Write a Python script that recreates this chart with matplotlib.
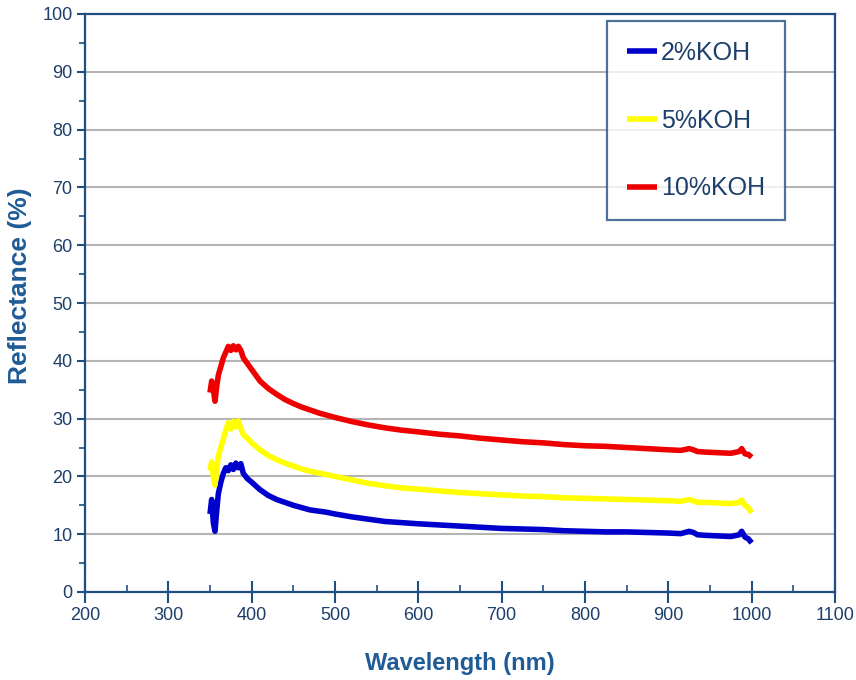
import matplotlib.pyplot as plt
from matplotlib.ticker import MultipleLocator

plt.rcParams['font.family'] = ['Liberation Sans', 'DejaVu Sans']

# wavelength (nm) and reflectance (%)
wavelength = [350, 352, 354, 356, 358, 360, 363, 366, 369, 372, 375, 378, 381, 384, 387,
              390, 395, 400, 410, 420, 430, 440, 450, 460, 470, 480, 490, 500, 520, 540,
              560, 580, 600, 625, 650, 675, 700, 725, 750, 775, 800, 825, 850, 875, 900,
              915, 925, 930, 935, 945, 960, 975, 985, 988, 992, 996, 1000]
koh_2 = [13.5, 16, 12, 10.5, 14, 17, 19, 20.5, 21.5, 21, 22, 21.2, 22.3, 21.5, 22.2,
         20.5, 19.6, 19.0, 17.7, 16.7, 16.0, 15.5, 15.0, 14.6, 14.2, 14.0, 13.8, 13.5, 13.0, 12.6,
         12.2, 12.0, 11.8, 11.6, 11.4, 11.2, 11.0, 10.9, 10.8, 10.6, 10.5, 10.4, 10.4, 10.3, 10.2,
         10.1, 10.5, 10.3, 9.9, 9.8, 9.7, 9.6, 9.9, 10.5, 9.5, 9.2, 8.5]
koh_5 = [21, 22.5, 20, 18.5, 21, 23.5, 25, 26.5, 28, 29.3, 28.2, 29.5, 28.6, 29.6, 28.3,
         27.2, 26.6, 25.8, 24.6, 23.6, 22.9, 22.3, 21.8, 21.3, 20.9, 20.6, 20.3, 20.0, 19.4, 18.8,
         18.4, 18.0, 17.8, 17.5, 17.2, 17.0, 16.8, 16.6, 16.5, 16.3, 16.2, 16.1, 16.0, 15.9, 15.8,
         15.7, 16.0, 15.8, 15.5, 15.5, 15.4, 15.3, 15.5, 15.9, 15.0, 14.6, 13.7]
koh_10 = [34.5, 36.5, 35, 33, 35.5, 37.5, 39, 40.5, 41.5, 42.5, 41.8, 42.6, 41.9, 42.5, 41.8,
          40.5, 39.5, 38.5, 36.5, 35.2, 34.2, 33.3, 32.6, 32.0, 31.5, 31.0, 30.6, 30.2, 29.5, 28.9,
          28.4, 28.0, 27.7, 27.3, 27.0, 26.6, 26.3, 26.0, 25.8, 25.5, 25.3, 25.2, 25.0, 24.8, 24.6,
          24.5, 24.8, 24.6, 24.3, 24.2, 24.1, 24.0, 24.3, 24.8, 23.9, 23.8, 23.3]

navy = '#1f4f82'

fig = plt.figure(figsize=(8.56, 6.8), dpi=100)
ax = fig.add_axes([85/856, 1-592/680, 750/856, 578/680])

ax.plot(wavelength, koh_2, color='#0000cc', lw=4, label='2%KOH', solid_capstyle='butt')
ax.plot(wavelength, koh_5, color='#ffff00', lw=4, label='5%KOH', solid_capstyle='butt')
ax.plot(wavelength, koh_10, color='#ee0000', lw=4, label='10%KOH', solid_capstyle='butt')

ax.set_xlim(200, 1100)
ax.set_ylim(0, 100)
ax.xaxis.set_major_locator(MultipleLocator(100))
ax.xaxis.set_minor_locator(MultipleLocator(50))
ax.yaxis.set_major_locator(MultipleLocator(10))
ax.yaxis.set_minor_locator(MultipleLocator(5))

ax.yaxis.grid(True, color='#b4b4b4', lw=1.5)
ax.set_axisbelow(True)

for s in ax.spines.values():
    s.set_color(navy)
    s.set_linewidth(1.6)

ax.tick_params(axis='x', which='major', direction='inout', length=16, width=1.5,
               color=navy, labelcolor='#1d3f6b', labelsize=13, pad=3)
ax.tick_params(axis='x', which='minor', direction='in', length=5, width=1.2, color=navy)
ax.tick_params(axis='y', which='major', direction='out', length=6, width=1.5,
               color=navy, labelcolor='#1d3f6b', labelsize=13, pad=3)
ax.tick_params(axis='y', which='minor', direction='out', length=4, width=1.2, color=navy)

ax.set_xlabel('Wavelength (nm)', fontsize=17, fontweight='bold', color='#1f5b95', labelpad=20)
ax.set_ylabel('Reflectance (%)', fontsize=19, fontweight='bold', color='#1f5b95')
ax.yaxis.set_label_coords(-0.071, 0.53)

leg = ax.legend(loc='upper left', bbox_to_anchor=(0.696, 0.988), fontsize=18,
                frameon=True, fancybox=False, handlelength=1.2, handletextpad=0.15,
                labelspacing=1.75, borderpad=0.8, borderaxespad=0)
leg.get_frame().set_edgecolor(navy)
leg.get_frame().set_linewidth(1.6)
for t in leg.get_texts():
    t.set_color('#1d3f6b')

plt.savefig('out.png', dpi=100)
